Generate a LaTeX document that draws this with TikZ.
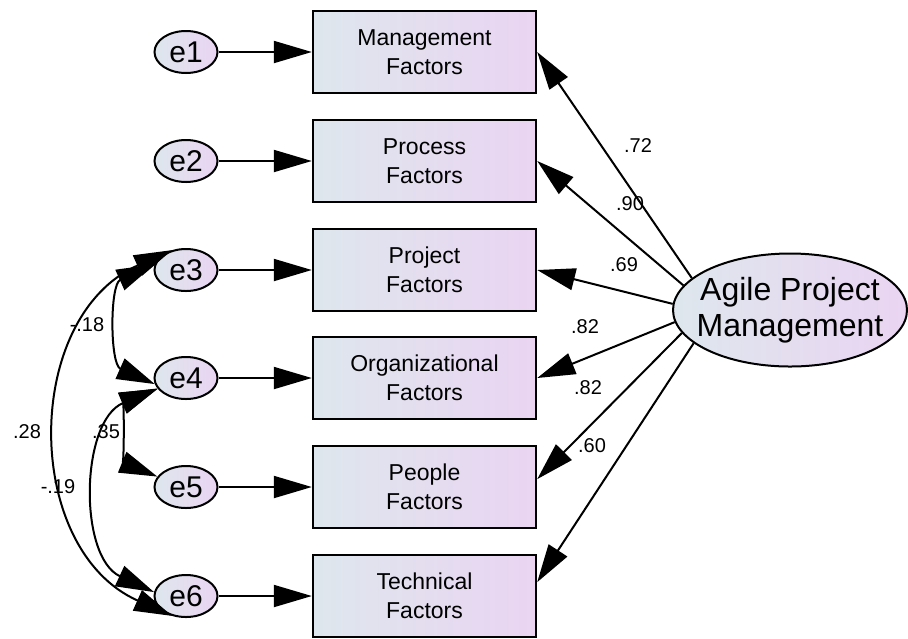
\documentclass[tikz,border=0pt]{standalone}
\usepackage{fontspec}
\setmainfont{Liberation Sans}
\usetikzlibrary{shapes.geometric, arrows.meta}
\definecolor{fillleft}{RGB}{222,231,237}
\definecolor{fillright}{RGB}{234,212,242}

\begin{document}
\begin{tikzpicture}[x=0.5pt, y=-0.5pt,
    obs/.style = {draw, line width=1.2pt, minimum width=111.5pt, minimum height=41pt, inner sep=0pt, align=center, left color=fillleft, right color=fillright, font=\fontsize{11.5}{14.5}\selectfont},
    err/.style = {draw, ellipse, line width=1pt, minimum width=31.5pt, minimum height=21pt, inner sep=0pt, left color=fillleft, right color=fillright, font=\fontsize{15}{18}\selectfont},
    lat/.style = {draw, ellipse, line width=1pt, minimum width=117pt, minimum height=56.5pt, inner xsep=-6pt, inner ysep=0pt, align=center, left color=fillleft, right color=fillright, font=\fontsize{16}{18}\selectfont},
    reg/.style = {-{Triangle[length=19pt, width=11pt]}, line width=1pt},
    cov/.style = {{Triangle[length=19pt, width=11pt]}-{Triangle[length=19pt, width=11pt]}, line width=1pt},
    coef/.style = {font=\fontsize{10}{12}\selectfont, inner sep=0pt}]
    \useasboundingbox (0,0) rectangle (908,638);

    % observed factors
    \node[obs] at (424.5, 52) (mgmt) {Management\\Factors};
    \node[obs] at (424.5, 161) (proc) {Process\\Factors};
    \node[obs] at (424.5, 270) (proj) {Project\\Factors};
    \node[obs] at (424.5, 378) (org) {Organizational\\Factors};
    \node[obs] at (424.5, 487) (peop) {People\\Factors};
    \node[obs] at (424.5, 596) (tech) {Technical\\Factors};

    % errors
    \node[err] at (186, 52) (e1) {e1};
    \node[err] at (186, 161) (e2) {e2};
    \node[err] at (186, 270) (e3) {e3};
    \node[err] at (186, 378) (e4) {e4};
    \node[err] at (186, 487) (e5) {e5};
    \node[err] at (186, 596) (e6) {e6};

    % latent
    \node[lat] at (790, 310) (apm) {Agile Project\\Management};

    \draw [reg] (e1) -- (mgmt);
    \draw [reg] (e2) -- (proc);
    \draw [reg] (e3) -- (proj);
    \draw [reg] (e4) -- (org);
    \draw [reg] (e5) -- (peop);
    \draw [reg] (e6) -- (tech);

    \draw [reg] (apm.162) -- (mgmt.east);
    \draw [reg] (apm.167) -- (proc.east);
    \draw [reg] (apm.177) -- (proj.east);
    \draw [reg] (apm.186) -- (org.east);
    \draw [reg] (apm.192) -- (peop.4);
    \draw [reg] (apm.199) -- (tech.7);

    % covariances
    \draw [cov] (e3.170) to[bend right=66, looseness=1.05] (e4.191);
    \draw [cov] (e3.125) to[bend right=66, looseness=1.15] (e6.235);
    \draw [cov] (e4.201) to[bend right=68, looseness=1.05] (e5.160);
    \draw [cov] (e4.200) to[bend right=66, looseness=1.05] (e6.173);

    % estimates
    \node[coef] at (638, 146) (l1) {.72};
    \node[coef] at (630, 204) (l2) {.90};
    \node[coef] at (624, 265) (l3) {.69};
    \node[coef] at (585, 327) (l4) {.82};
    \node[coef] at (588, 388) (l5) {.82};
    \node[coef] at (592, 446) (l6) {.60};
    \node[coef] at (87, 325) (r34) {-.18};
    \node[coef] at (27, 432) (r36) {.28};
    \node[coef] at (106, 432) (r45) {.35};
    \node[coef] at (58, 487) (r46) {-.19};
\end{tikzpicture}
\end{document}
